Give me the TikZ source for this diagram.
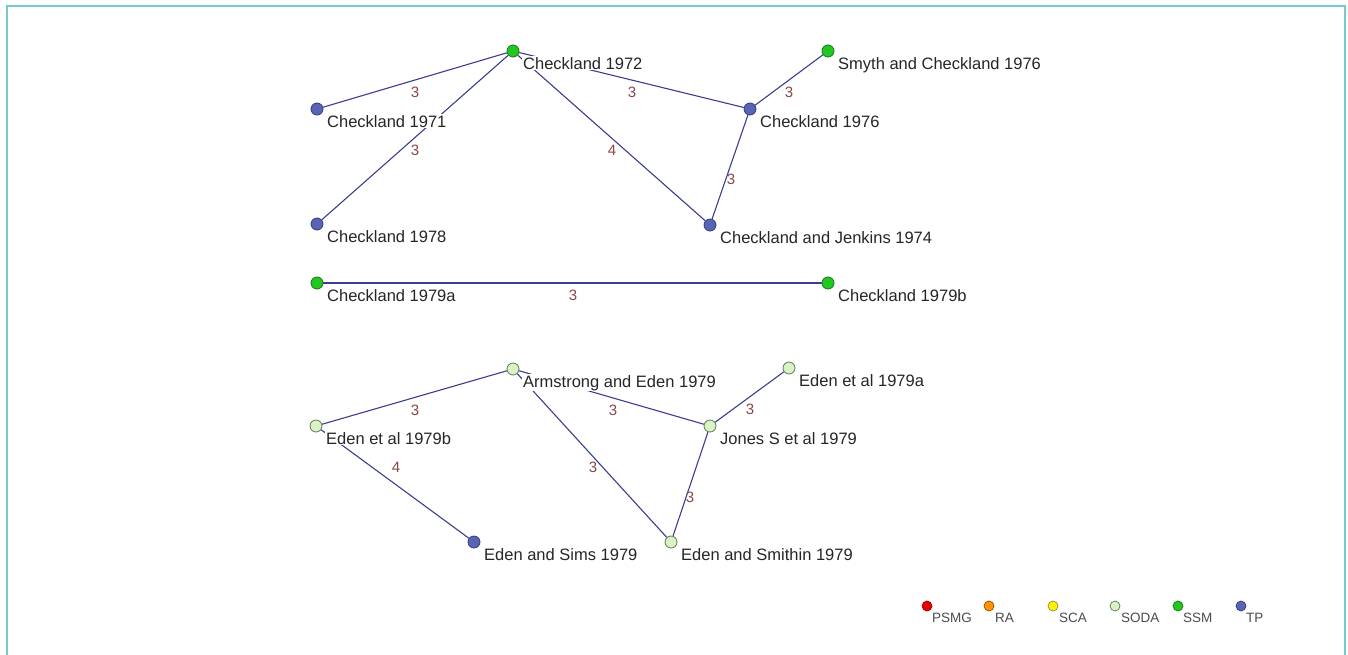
\documentclass[tikz,border=0pt]{standalone}
\usepackage{fontspec}
\setmainfont{Liberation Sans}
\begin{document}
\begin{tikzpicture}[x=1pt,y=-1pt,
  vtx/.style={circle,inner sep=0pt,minimum size=12pt,line width=0.8pt},
  ssm/.style={vtx,fill=ssmc,draw=ssmd},
  tp/.style={vtx,fill=tpc,draw=tpd},
  soda/.style={vtx,fill=sodac,draw=sodad},
  lvtx/.style={circle,inner sep=0pt,minimum size=10pt,line width=0.7pt},
  lbl/.style={anchor=base west,fill=white,inner sep=1pt,font=\fontsize{16.5}{18}\selectfont,text=black!85},
  elbl/.style={font=\fontsize{15}{16}\selectfont,text=edgelab,inner sep=0pt},
  leg/.style={anchor=base west,inner sep=0pt,font=\fontsize{13.5}{15}\selectfont,text=black!70},
  edge/.style={draw=edgec,line width=1.1pt}]
\definecolor{ssmc}{HTML}{22C722}
\definecolor{ssmd}{HTML}{127A12}
\definecolor{tpc}{HTML}{5A64B4}
\definecolor{tpd}{HTML}{353A80}
\definecolor{sodac}{HTML}{DAF2C6}
\definecolor{sodad}{HTML}{5E7A4E}
\definecolor{edgec}{HTML}{3C3C90}
\definecolor{edgelab}{HTML}{8B4545}
\definecolor{border}{HTML}{7AC8D0}
\useasboundingbox (0,0) rectangle (1348,654);
\draw[border,line width=2.2pt] (7,660) -- (7,6) -- (1345,6) -- (1345,660);
% vertices
\node[ssm] (c72) at (513,51) {};
\node[tp] (c71) at (317,109) {};
\node[tp] (c78) at (317,224) {};
\node[ssm] (smyth) at (828,51) {};
\node[tp] (c76) at (750,109) {};
\node[tp] (cj74) at (710,225) {};
\node[ssm] (c79a) at (317,283) {};
\node[ssm] (c79b) at (828,283) {};
\node[soda] (arm) at (513,369) {};
\node[soda] (e79a) at (789,368) {};
\node[soda] (e79b) at (316,426) {};
\node[soda] (jones) at (710,426) {};
\node[tp] (sims) at (474,542) {};
\node[soda] (smithin) at (671,542) {};
% edges
\draw[edge] (c71) -- (c72);
\draw[edge] (c78) -- (c72);
\draw[edge] (c72) -- (cj74);
\draw[edge] (c72) -- (c76);
\draw[edge] (smyth) -- (c76);
\draw[edge] (c76) -- (cj74);
\draw[edge] (c79a) -- (c79b);
\draw[edge] (e79b) -- (arm);
\draw[edge] (arm) -- (jones);
\draw[edge] (e79a) -- (jones);
\draw[edge] (arm) -- (smithin);
\draw[edge] (jones) -- (smithin);
\draw[edge] (e79b) -- (sims);
% edge labels
\node[elbl] (l1) at (415,92) {3};
\node[elbl] (l2) at (415,150) {3};
\node[elbl] (l3) at (612,150) {4};
\node[elbl] (l4) at (632,92) {3};
\node[elbl] (l5) at (789,92) {3};
\node[elbl] (l6) at (731,179) {3};
\node[elbl] (l7) at (573,295) {3};
\node[elbl] (l8) at (415,410) {3};
\node[elbl] (l9) at (613,410) {3};
\node[elbl] (l10) at (750,409) {3};
\node[elbl] (l11) at (593,467) {3};
\node[elbl] (l12) at (690,497) {3};
\node[elbl] (l13) at (396,467) {4};
% vertex labels
\node[lbl] (t72) at (522,69) {Checkland 1972};
\node[lbl] (t71) at (326,127) {Checkland 1971};
\node[lbl] (t78) at (326,242) {Checkland 1978};
\node[lbl] (tsm) at (837,69) {Smyth and Checkland 1976};
\node[lbl] (t76) at (759,127) {Checkland 1976};
\node[lbl] (tj74) at (719,243) {Checkland and Jenkins 1974};
\node[lbl] (t79a) at (326,301) {Checkland 1979a};
\node[lbl] (t79b) at (837,301) {Checkland 1979b};
\node[lbl] (tarm) at (522,387) {Armstrong and Eden 1979};
\node[lbl] (te79a) at (798,386) {Eden et al 1979a};
\node[lbl] (te79b) at (325,444) {Eden et al 1979b};
\node[lbl] (tjon) at (719,444) {Jones S et al 1979};
\node[lbl] (tsims) at (483,560) {Eden and Sims 1979};
\node[lbl] (tsmi) at (680,560) {Eden and Smithin 1979};
% legend
\node[lvtx,fill=red!90!black,draw=red!60!black] (gp) at (927,606) {};
\node[leg] (gpt) at (932,622) {PSMG};
\node[lvtx,fill=orange!85!yellow,draw=orange!60!black] (gr) at (989,606) {};
\node[leg] (grt) at (995,622) {RA};
\node[lvtx,fill=yellow,draw=yellow!50!black] (gs) at (1053,606) {};
\node[leg] (gst) at (1059,622) {SCA};
\node[lvtx,fill=sodac,draw=sodad] (go) at (1115,606) {};
\node[leg] (got) at (1121,622) {SODA};
\node[lvtx,fill=ssmc,draw=ssmd] (gm) at (1178,606) {};
\node[leg] (gmt) at (1183,622) {SSM};
\node[lvtx,fill=tpc,draw=tpd] (gt) at (1241,606) {};
\node[leg] (gtt) at (1246,622) {TP};
\end{tikzpicture}
\end{document}
